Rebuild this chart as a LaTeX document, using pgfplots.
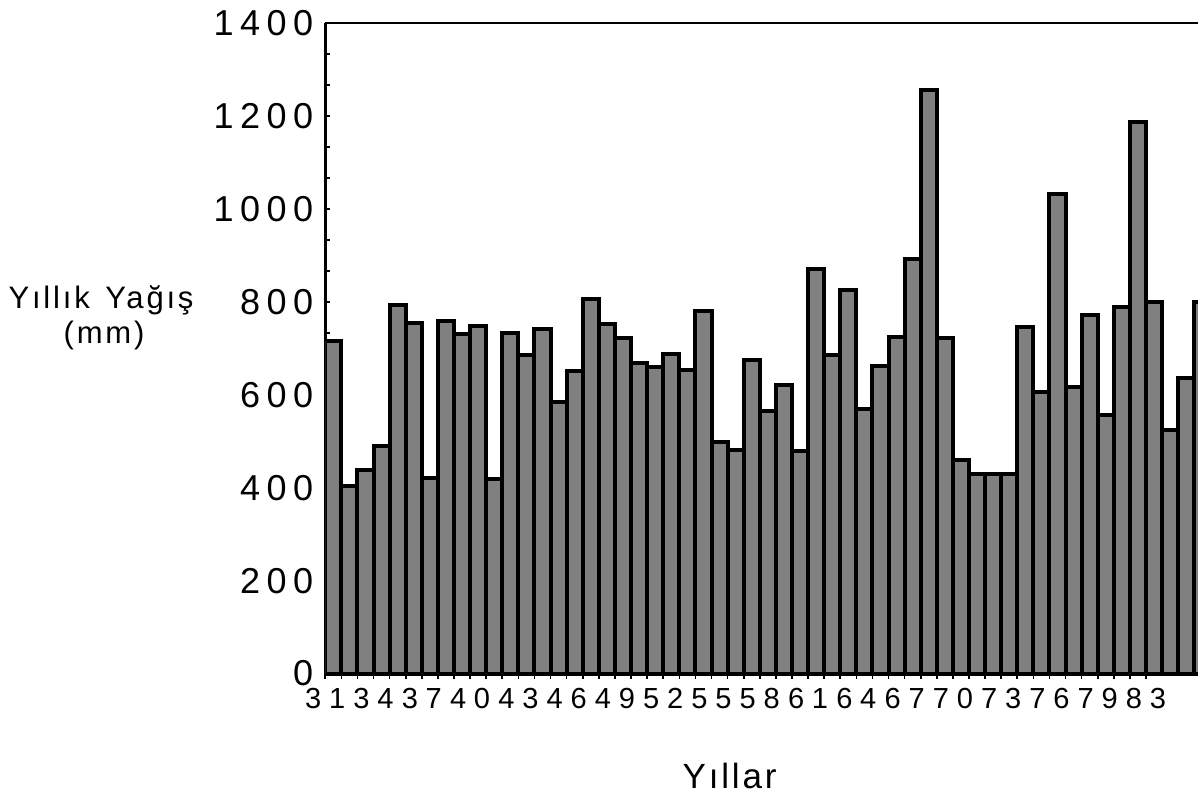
\documentclass[border=0pt]{standalone}
\usepackage{fontspec}
\setmainfont{Liberation Sans}
\newfontfamily\ytickfont[LetterSpace=18]{Liberation Sans}
\newfontfamily\xtickfont[LetterSpace=27]{Liberation Sans}
\newfontfamily\ylabfont[LetterSpace=9]{Liberation Sans}
\newfontfamily\xlabfont[LetterSpace=8]{Liberation Sans}
\usepackage{pgfplots}
\usepackage{pgfplotstable}
\pgfplotsset{compat=1.18}
\definecolor{stipple}{gray}{0.5}

% yearly precipitation, 1931-1985 (bar i centred at i+0.5)
\pgfplotstableread{
x v
0.5 715
1.5 403
2.5 438
3.5 490
4.5 794
5.5 754
6.5 420
7.5 759
8.5 730
9.5 747
10.5 418
11.5 732
12.5 686
13.5 741
14.5 585
15.5 651
16.5 805
17.5 752
18.5 723
19.5 668
20.5 659
21.5 688
22.5 653
23.5 780
24.5 499
25.5 482
26.5 674
27.5 565
28.5 622
29.5 479
30.5 870
31.5 686
32.5 825
33.5 569
34.5 662
35.5 725
36.5 892
37.5 1255
38.5 723
39.5 460
40.5 429
41.5 429
42.5 429
43.5 745
44.5 605
45.5 1031
46.5 616
47.5 772
48.5 556
49.5 788
50.5 1187
51.5 800
52.5 525
53.5 635
54.5 799
}\rain

\begin{document}
\begin{tikzpicture}
\useasboundingbox (-162.5pt,-67pt) rectangle (436pt,336.5pt);
\begin{axis}[
  at={(0,0)}, anchor=south west,
  scale only axis, width=436pt, height=325pt,
  xmin=0, xmax=54.23, ymin=0, ymax=1400,
  axis x line*=bottom, axis y line*=left,
  x axis line style={line width=2.4pt},
  y axis line style={line width=1.3pt},
  xtick={0,3,...,51},
  xticklabels={31,34,37,40,43,46,49,52,55,58,61,64,67,70,73,76,79,83},
  minor tick num=2,
  xtick align=outside,
  ytick align=inside,
  major tick length=2.5pt, minor tick length=2.5pt,
  tick style={black, line width=0.8pt},
  ytick={0,200,...,1400},
  yticklabels={0,200,400,600,800,1000,1200,1400},
  minor ytick={},
  xticklabel style={font=\xtickfont\fontsize{14.5}{16}\selectfont, yshift=-1.5pt},
  yticklabel style={font=\ytickfont\fontsize{18}{20}\selectfont, xshift=-2.5pt},
  ybar, bar width=1, bar shift=0,
]
\addplot[draw=black, line width=2pt, fill=stipple] table[x=x, y=v] {\rain};
\end{axis}
\draw[line width=1.2pt] (0,325pt) -- (436pt,325pt);
\node[font=\ylabfont\fontsize{15.5}{17}\selectfont] at (-112pt,186.5pt) {Yıllık\enspace Yağış};
\node[font=\ylabfont\fontsize{15.5}{17}\selectfont] at (-110.5pt,169pt) {(mm)};
\node[font=\xlabfont\fontsize{17.5}{20}\selectfont] at (202pt,-51pt) {Yıllar};
\end{tikzpicture}
\end{document}
